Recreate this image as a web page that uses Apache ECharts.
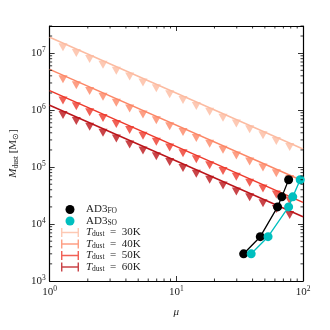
<!DOCTYPE html>
<html>
<head>
<meta charset="utf-8">
<script src="https://cdn.jsdelivr.net/npm/echarts@6/dist/echarts.min.js"></script>
<style>
  html, body { margin: 0; padding: 0; background: #fff; }
  #main { width: 330px; height: 330px; }
</style>
</head>
<body>
<div id="main"></div>
<script>
// 数据：上限 (倒三角) 所在的 mu
var muLim = [1.274, 1.624, 2.069, 2.637, 3.360, 4.281, 5.456, 6.952, 8.859, 11.29,
             14.38, 18.33, 23.36, 29.76, 37.93, 48.33, 61.58, 78.48];
var muEnds = [1, 100];

// 各温度的线（两端点）
var temps = ['30K', '40K', '50K', '60K'];
var tempColors = ['#fcbba1', '#fc8767', '#ee3a2c', '#bb151a'];
var lineEnds = [
  [1.9e7, 2.08e5],
  [5.2e6, 5.7e4],
  [2.2e6, 2.4e4],
  [1.22e6, 1.34e4]
];
// 各温度的上限值
var lim30 = [1.50e7, 1.18e7, 9.32e6, 7.35e6, 5.80e6, 4.57e6, 3.60e6, 2.84e6, 2.24e6, 1.77e6,
             1.39e6, 1.10e6, 8.66e5, 6.84e5, 5.40e5, 4.26e5, 3.36e5, 2.64e5];
var lim40 = [4.10e6, 3.23e6, 2.55e6, 2.01e6, 1.59e6, 1.25e6, 9.86e5, 7.78e5, 6.14e5, 4.84e5,
             3.82e5, 3.01e5, 2.37e5, 1.87e5, 1.48e5, 1.16e5, 9.20e4, 7.23e4];
var lim50 = [1.73e6, 1.37e6, 1.08e6, 8.51e5, 6.71e5, 5.29e5, 4.17e5, 3.29e5, 2.60e5, 2.05e5,
             1.61e5, 1.27e5, 1.00e5, 7.92e4, 6.25e4, 4.93e4, 3.89e4, 3.06e4];
var lim60 = [9.62e5, 7.59e5, 5.98e5, 4.72e5, 3.72e5, 2.93e5, 2.31e5, 1.83e5, 1.44e5, 1.13e5,
             8.95e4, 7.06e4, 5.56e4, 4.39e4, 3.46e4, 2.73e4, 2.16e4, 1.70e4];
var limits = [lim30, lim40, lim50, lim60];

// AD3 两组
var muFO = [34, 46, 63, 68, 77];
var muSO = [39, 53, 77, 83, 95];
var mAD3 = [3.0e3, 6.0e3, 2.0e4, 3.0e4, 6.0e4];

var xMin = 1, xMax = 100, yMin = 1e3, yMax = 3e7;
var FONT = 'Liberation Serif';

var myChart = echarts.init(document.getElementById('main'));

function pow10Label(v) {
  var e = Math.log10(v);
  var r = Math.round(e);
  if (Math.abs(e - r) > 1e-6) return '';
  return '{b|10}{e|' + r + '}';
}
var tickRich = {
  b: { fontFamily: FONT, fontSize: 11, color: '#222', lineHeight: 14 },
  e: { fontFamily: FONT, fontSize: 7.5, color: '#222', lineHeight: 8, verticalAlign: 'top' }
};

var legendNames = {
  'AD3_FO': '{m|AD3}{s|FO}',
  'AD3_SO': '{m|AD3}{s|SO}'
};
temps.forEach(function (t) {
  legendNames['T' + t] = '{i|T}{s|dust}{m|  =  ' + t + '}';
});

// 次刻度 (2..9 x 10^n)，四边朝内
function minorTicks(params, api) {
  var kids = [];
  var len = 2.5;
  function seg(x1, y1, x2, y2) {
    kids.push({ type: 'line', shape: { x1: x1, y1: y1, x2: x2, y2: y2 },
      style: { stroke: '#000', lineWidth: 0.8 } });
  }
  for (var e = 0; e < 2; e++) {
    for (var d = 2; d <= 9; d++) {
      var v = d * Math.pow(10, e);
      var p0 = api.coord([v, yMin]), p1 = api.coord([v, yMax]);
      seg(p0[0], p0[1], p0[0], p0[1] - len);
      seg(p1[0], p1[1], p1[0], p1[1] + len);
    }
  }
  for (var e2 = 3; e2 <= 7; e2++) {
    for (var d2 = 2; d2 <= 9; d2++) {
      var w = d2 * Math.pow(10, e2);
      if (w > yMax) break;
      var q0 = api.coord([xMin, w]), q1 = api.coord([xMax, w]);
      seg(q0[0], q0[1], q0[0] + len, q0[1]);
      seg(q1[0], q1[1], q1[0] - len, q1[1]);
    }
  }
  return { type: 'group', children: kids };
}

var series = [];
temps.forEach(function (t, i) {
  // 先放散点，图例用它的图标
  series.push({
    name: 'T' + t,
    type: 'scatter',
    color: tempColors[i],
    data: muLim.map(function (m, j) { return [m, limits[i][j]]; }),
    symbol: 'path://M0,0 L10,0 L5,9 Z',
    symbolSize: [9, 8],
    symbolOffset: [0, 4],
    itemStyle: { color: tempColors[i] },
    z: 3
  });
  series.push({
    name: 'T' + t,
    type: 'line',
    color: tempColors[i],
    data: muEnds.map(function (m, j) { return [m, lineEnds[i][j]]; }),
    showSymbol: false,
    lineStyle: { color: tempColors[i], width: 1.5 },
    z: 2,
    silent: true
  });
});
series.push({
  name: 'AD3_FO',
  type: 'line',
  color: '#000',
  data: muFO.map(function (m, j) { return [m, mAD3[j]]; }),
  symbol: 'circle',
  symbolSize: 9,
  showAllSymbol: true,
  lineStyle: { color: '#000', width: 1.3 },
  itemStyle: { color: '#000' },
  z: 5
});
series.push({
  name: 'AD3_SO',
  type: 'line',
  color: '#00bfbf',
  data: muSO.map(function (m, j) { return [m, mAD3[j]]; }),
  symbol: 'circle',
  symbolSize: 9,
  showAllSymbol: true,
  lineStyle: { color: '#00bfbf', width: 1.3 },
  itemStyle: { color: '#00bfbf' },
  z: 5
});
series.push({
  type: 'custom',
  silent: true,
  clip: false,
  z: 10,
  data: [[1, 1000]],
  renderItem: minorTicks
});

var Hicon = 'path://M0,0h1.6v10h-1.6z M18.4,0h1.6v10h-1.6z M0,4.2h20v1.6h-20z';

var axisCommon = {
  axisLine: { show: true, onZero: false, lineStyle: { color: '#000', width: 1.2 } },
  axisTick: { show: true, inside: true, length: 5, lineStyle: { color: '#000', width: 0.8 } },
  splitLine: { show: false }
};

var option = {
  animation: false,
  grid: { left: 49, right: 27, top: 26, bottom: 49 },
  legend: {
    orient: 'vertical',
    left: 56,
    top: 199,
    itemWidth: 18,
    itemHeight: 9,
    itemGap: 0,
    selectedMode: false,
    data: [
      { name: 'AD3_FO', icon: 'circle' },
      { name: 'AD3_SO', icon: 'circle' }
    ].concat(temps.map(function (t) { return { name: 'T' + t, icon: Hicon, itemStyle: { opacity: 0.8 } }; })),
    formatter: function (name) { return legendNames[name]; },
    textStyle: {
      fontFamily: FONT,
      padding: [0, 0, 0, 2],
      rich: {
        m: { fontFamily: FONT, fontSize: 11, color: '#222', lineHeight: 12 },
        i: { fontFamily: FONT, fontSize: 11, fontStyle: 'italic', color: '#222', lineHeight: 12 },
        s: { fontFamily: FONT, fontSize: 7.5, color: '#222', lineHeight: 6, verticalAlign: 'bottom' }
      }
    }
  },
  xAxis: [
    Object.assign({
      type: 'log', logBase: 10, min: xMin, max: xMax, position: 'bottom',
      name: 'μ', nameLocation: 'middle', nameGap: 26,
      nameTextStyle: { fontFamily: FONT, fontSize: 11, fontStyle: 'italic', color: '#222' },
      axisLabel: { margin: 4, formatter: pow10Label, rich: tickRich }
    }, axisCommon),
    Object.assign({
      type: 'log', logBase: 10, min: xMin, max: xMax, position: 'top',
      axisLabel: { show: false }
    }, axisCommon)
  ],
  yAxis: [
    Object.assign({
      type: 'log', logBase: 10, min: yMin, max: yMax, position: 'left',
      name: '{i|M}{s|dust} [M{s|⊙}]', nameLocation: 'middle', nameGap: 19, nameRotate: 90,
      nameTextStyle: {
        fontFamily: FONT, fontSize: 11, color: '#222',
        rich: {
          i: { fontFamily: FONT, fontSize: 11, fontStyle: 'italic', color: '#222', lineHeight: 13 },
          s: { fontFamily: FONT, fontSize: 7.5, color: '#222', lineHeight: 7, verticalAlign: 'bottom' }
        }
      },
      axisLabel: { margin: 4, formatter: pow10Label, rich: tickRich }
    }, axisCommon),
    Object.assign({
      type: 'log', logBase: 10, min: yMin, max: yMax, position: 'right',
      axisLabel: { show: false }
    }, axisCommon)
  ],
  series: series
};

myChart.setOption(option);
</script>
</body>
</html>
